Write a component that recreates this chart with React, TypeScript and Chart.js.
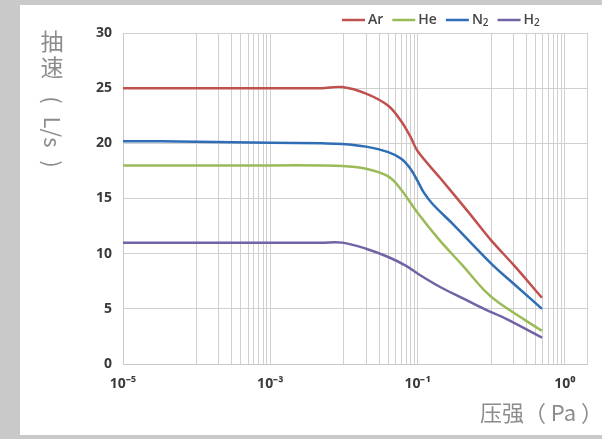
import React, { useEffect, useRef } from "react";
import { Chart, registerables } from "chart.js";

Chart.register(...registerables);

// ---- data (pressure in Pa, pumping speed in L/s) ----
const arPressure = [1e-5, 1e-4, 1e-3, 5e-3, 0.0095, 0.02, 0.04, 0.06, 0.08, 0.1, 0.2, 0.5, 1, 2, 4.9];
const arSpeed = [25, 25, 25, 25, 25.1, 24.5, 23.4, 22.0, 20.6, 19.3, 16.9, 13.7, 11.2, 9.0, 6.0];

const hePressure = [1e-5, 1e-4, 1e-3, 5e-3, 0.0095, 0.02, 0.04, 0.06, 0.1, 0.2, 0.4, 0.8, 1.3, 4.9];
const heSpeed = [18, 18, 18, 18, 17.95, 17.7, 17.0, 15.8, 13.7, 11.2, 9.0, 6.7, 5.5, 3.0];

const n2Pressure = [1e-5, 1e-4, 1e-3, 5e-3, 0.0095, 0.02, 0.04, 0.06, 0.08, 0.1, 0.12, 0.16, 0.3, 1, 2, 4.9];
const n2Speed = [20.2, 20.15, 20.05, 20.0, 19.95, 19.7, 19.2, 18.6, 17.7, 16.6, 15.6, 14.5, 12.7, 9.1, 7.3, 5.0];

const h2Pressure = [1e-5, 1e-4, 1e-3, 5e-3, 0.0095, 0.02, 0.04, 0.07, 0.1, 0.2, 0.4, 0.8, 1.6, 4.9];
const h2Speed = [11, 11, 11, 11, 11.0, 10.45, 9.7, 8.9, 8.2, 7.0, 6.0, 5.0, 4.1, 2.4];

const seriesNames = ["Ar", "He", "N2", "H2"];
const seriesColors = ["#c0504d", "#9bbb59", "#2f6db5", "#7262a6"];

// x grid lines (as in the reference) and the labelled ticks
const xGridValues = [
  1e-5, 1e-4, 2e-4, 3e-4, 4e-4, 5e-4, 6e-4, 7e-4, 8e-4, 9e-4, 1e-3,
  1e-2, 2e-2, 3e-2, 4e-2, 5e-2, 6e-2, 7e-2, 8e-2, 9e-2, 1e-1,
  1, 2, 3, 4, 5, 6, 7, 8, 9, 10, 20,
];
const xLabelValues = [1e-5, 1e-3, 1e-1, 10];
const xLabelTexts = ["10\u207B\u2075", "10\u207B\u00B3", "10\u207B\u00B9", "10\u2070"];

const yTitleUpright = ["抽", "速"];
const yTitleSideways = ["(", "L/s", ")"];
const xTitle = "压强（ Pa ）";

const xMin = 1e-5;
const xMax = 20;
const yMin = 0;
const yMax = 30;
const yStep = 5;

const sameValue = (a: number, b: number) => Math.abs(Math.log10(a) - Math.log10(b)) < 1e-6;

const framePlugin = {
  id: "frame",
  beforeDraw(chart: any) {
    const ctx = chart.ctx;
    ctx.save();
    ctx.fillStyle = "#c9c9c9";
    ctx.fillRect(0, 0, chart.width, chart.height);
    ctx.fillStyle = "#ffffff";
    ctx.fillRect(20, 5, chart.width - 20, 430);
    ctx.restore();
  },
  afterDraw(chart: any) {
    const ctx = chart.ctx;
    ctx.save();
    // y title (vertical writing)
    ctx.fillStyle = "#8c8c8c";
    ctx.font = "23px 'Noto Sans CJK SC'";
    ctx.textAlign = "center";
    ctx.textBaseline = "middle";
    ctx.fillText(yTitleUpright[0], 52, 41);
    ctx.fillText(yTitleUpright[1], 52, 67);
    ctx.save();
    ctx.translate(52, 0);
    ctx.rotate(Math.PI / 2);
    ctx.font = "22px 'Noto Sans CJK SC'";
    ctx.fillText(yTitleSideways[0], 100, 0);
    ctx.fillText(yTitleSideways[1], 132, 0);
    ctx.fillText(yTitleSideways[2], 164, 0);
    ctx.restore();
    // x title
    ctx.font = "22px 'Noto Sans CJK SC'";
    ctx.textAlign = "right";
    ctx.fillText(xTitle, 603, 413);

    // legend
    let x = 342;
    const y = 20;
    chart.data.datasets.forEach((ds: any) => {
      ctx.strokeStyle = ds.borderColor;
      ctx.lineWidth = 2.5;
      ctx.beginPath();
      ctx.moveTo(x, y);
      ctx.lineTo(x + 23, y);
      ctx.stroke();
      x += 26;
      const label: string = ds.label;
      const m = label.match(/^(\D+)(\d*)$/);
      const base = m ? m[1] : label;
      const sub = m ? m[2] : "";
      ctx.fillStyle = "#454545";
      ctx.textAlign = "left";
      ctx.textBaseline = "middle";
      ctx.font = "600 14px 'Open Sans'";
      ctx.fillText(base, x, y);
      x += ctx.measureText(base).width;
      if (sub) {
        ctx.font = "600 10px 'Open Sans'";
        ctx.fillText(sub, x, y + 3);
        x += ctx.measureText(sub).width;
      }
      x += 9;
    });
    ctx.restore();
  },
};

export default function App() {
  const canvasRef = useRef<HTMLCanvasElement | null>(null);

  useEffect(() => {
    document.body.style.margin = "0";
    const canvas = canvasRef.current;
    if (!canvas) return;
    const pressures = [arPressure, hePressure, n2Pressure, h2Pressure];
    const speeds = [arSpeed, heSpeed, n2Speed, h2Speed];
    const tickFont = { family: "'Open Sans'", size: 14, weight: "bold" as const };
    const chart = new Chart(canvas, {
      type: "line",
      data: {
        datasets: seriesNames.map((name, i) => ({
          label: name,
          data: pressures[i].map((p, j) => ({ x: p, y: speeds[i][j] })),
          borderColor: seriesColors[i],
          backgroundColor: seriesColors[i],
          borderWidth: 2.5,
          pointRadius: 0,
          fill: false,
          tension: 0.35,
        })),
      },
      options: {
        animation: false,
        responsive: false,
        devicePixelRatio: 1,
        layout: { padding: { top: 33, right: 15, left: 0, bottom: 0 } },
        plugins: { legend: { display: false }, tooltip: { enabled: false } },
        scales: {
          x: {
            type: "logarithmic",
            min: xMin,
            max: xMax,
            afterBuildTicks: (s: any) => {
              s.ticks = xGridValues.map((v) => ({ value: v }));
            },
            afterFit: (s: any) => {
              s.height = 75;
            },
            grid: { color: "#d0d0d0", lineWidth: 1, drawTicks: false },
            border: { color: "#c8c8c8" },
            ticks: {
              autoSkip: false,
              maxRotation: 0,
              minRotation: 0,
              padding: 12,
              color: "#3a3a3a",
              font: tickFont,
              callback: (v: any) => {
                const idx = xLabelValues.findIndex((lv) => sameValue(lv, Number(v)));
                return idx >= 0 ? xLabelTexts[idx] : "";
              },
            },
          },
          y: {
            min: yMin,
            max: yMax,
            afterFit: (s: any) => {
              s.width = 123;
            },
            grid: { color: "#d0d0d0", lineWidth: 1, drawTicks: false },
            border: { color: "#c8c8c8" },
            ticks: { stepSize: yStep, padding: 11, color: "#3a3a3a", font: tickFont },
          },
        },
      },
      plugins: [framePlugin],
    } as any);
    return () => chart.destroy();
  }, []);

  return (
    <div style={{ width: 602, height: 439 }}>
      <canvas ref={canvasRef} width={602} height={439} style={{ display: "block" }} />
    </div>
  );
}
